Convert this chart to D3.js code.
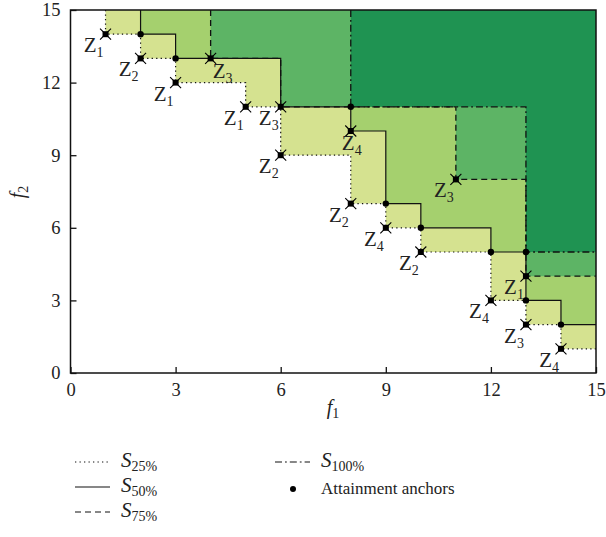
<!DOCTYPE html>
<html><head><meta charset="utf-8">
<script src="https://cdn.jsdelivr.net/npm/d3@7"></script>
<style>body{margin:0;background:#fff}svg{display:block}svg text{font-family:"Liberation Serif","Times New Roman",serif !important;fill:#222}</style>
</head><body>
<svg id="c" width="606" height="537"></svg>
<script>
// ---- data ----
const ticks = [0, 3, 6, 9, 12, 15];
const z1 = [[1,14],[3,12],[5,11],[13,4]];
const z2 = [[2,13],[6,9],[8,7],[10,5]];
const z3 = [[4,13],[6,11],[11,8],[13,2]];
const z4 = [[8,10],[9,6],[12,3],[14,1]];
const s25 = [[1,14],[2,13],[3,12],[5,11],[6,9],[8,7],[9,6],[10,5],[12,3],[13,2],[14,1]];
const s50 = [[2,14],[3,13],[6,11],[8,10],[9,7],[10,6],[12,5],[13,3],[14,2]];
const s75 = [[4,13],[6,11],[11,8],[13,4]];
const s100 = [[8,11],[13,5]];
const anchors = [[2,14],[3,13],[8,11],[9,7],[10,6],[12,5],[13,5],[13,3],[14,2]];

const svg = d3.select("#c");
const x = d3.scaleLinear([0,15],[70.5,596]);
const y = d3.scaleLinear([0,15],[373,10]);

function stepPts(s){
  const p=[[s[0][0],15]];
  s.forEach((d,i)=>{ p.push(d); const nx = i<s.length-1 ? s[i+1][0] : 15; p.push([nx,d[1]]); });
  return p;
}
const line = d3.line().x(d=>x(d[0])).y(d=>y(d[1]));
const fills = [[s25,"#d5e290"],[s50,"#a5d06e"],[s75,"#5db465"],[s100,"#1f9352"]];
fills.forEach(([s,c])=>{
  const p = stepPts(s).concat([[15,15]]);
  svg.append("path").attr("d", line(p)+"Z").attr("fill",c);
});
const styles = [[s25,"1.3,3.2",1.2],[s75,"6,4",1.3],[s100,"7,3,1.8,3",1.3],[s50,null,1.2]];
styles.forEach(([s,da,w])=>{
  svg.append("path").attr("d", line(stepPts(s))).attr("fill","none")
    .attr("stroke","#111").attr("stroke-width",w).attr("stroke-dasharray",da);
});

// box and axes
svg.append("rect").attr("x",x(0)).attr("y",y(15)).attr("width",x(15)-x(0)).attr("height",y(0)-y(15))
  .attr("fill","none").attr("stroke","#111").attr("stroke-width",1.5);
const ax = svg.append("g").attr("transform",`translate(0,${y(0)})`)
  .call(d3.axisBottom(x).tickValues(ticks).tickSizeInner(-6).tickSizeOuter(0).tickPadding(10).tickFormat(d3.format("d")));
const ay = svg.append("g").attr("transform",`translate(${x(0)},0)`)
  .call(d3.axisLeft(y).tickValues(ticks).tickSizeInner(-6).tickSizeOuter(0).tickPadding(10).tickFormat(d3.format("d")));
[ax,ay].forEach(g=>{ g.select(".domain").remove(); g.attr("font-family",null);
  g.selectAll("line").attr("stroke","#111").attr("stroke-width",1.3);
  g.selectAll("text").attr("font-size",18.5).attr("fill","#222"); });

// anchors
svg.selectAll("circle.a").data(anchors).join("circle").attr("cx",d=>x(d[0])).attr("cy",d=>y(d[1])).attr("r",3.2).attr("fill","#000");

// points with labels
const sets = [[z1,"1"],[z2,"2"],[z3,"3"],[z4,"4"]];
const special = {"4,13":"br","8,10":"b"};
sets.forEach(([pts,k])=>{
  pts.forEach(d=>{
    const px=x(d[0]), py=y(d[1]);
    const g = svg.append("g");
    g.append("rect").attr("x",px-3).attr("y",py-3).attr("width",6).attr("height",6).attr("fill","#000");
    g.append("path").attr("d",`M${px-5.5},${py-5.5}L${px+5.5},${py+5.5}M${px-5.5},${py+5.5}L${px+5.5},${py-5.5}`)
      .attr("stroke","#000").attr("stroke-width",1.1);
    const pl = special[d.join(",")];
    let tx=px-2, ty=py+18, anc="end";
    if(pl==="br"){tx=px+2; ty=py+20; anc="start";}
    if(pl==="b"){tx=px+1; ty=py+19; anc="middle";}
    const t = g.append("text").attr("x",tx).attr("y",ty).attr("text-anchor",anc).attr("font-size",21);
    t.append("tspan").text("Z");
    t.append("tspan").attr("font-size",14).attr("dy",5).text(k);
  });
});

// axis titles
const tx1 = svg.append("text").attr("x",333).attr("y",414).attr("text-anchor","middle").attr("font-size",20);
tx1.append("tspan").attr("font-style","italic").text("f");
tx1.append("tspan").attr("font-size",14).attr("dy",4).text("1");
const ty1 = svg.append("text").attr("transform","translate(24,192) rotate(-90)").attr("text-anchor","middle").attr("font-size",20);
ty1.append("tspan").attr("font-style","italic").text("f");
ty1.append("tspan").attr("font-size",14).attr("dy",4).text("2");

// legend
const leg = [
  {x:75, y:467, da:"1.3,3.2", lab:"25%"},
  {x:75, y:492, da:null, lab:"50%"},
  {x:75, y:517, da:"6,4", lab:"75%"},
  {x:275, y:467, da:"7,3,1.8,3", lab:"100%"}
];
leg.forEach(l=>{
  svg.append("line").attr("x1",l.x).attr("x2",l.x+35).attr("y1",l.y-5).attr("y2",l.y-5)
    .attr("stroke","#111").attr("stroke-width",1.2).attr("stroke-dasharray",l.da);
  const t = svg.append("text").attr("x",l.x+46).attr("y",l.y).attr("font-size",21);
  t.append("tspan").attr("font-style","italic").text("S");
  t.append("tspan").attr("font-size",14).attr("dy",4).text(l.lab);
});
svg.append("circle").attr("cx",293).attr("cy",489).attr("r",3).attr("fill","#000");
svg.append("text").attr("x",321).attr("y",494).attr("font-size",17).text("Attainment anchors");
</script>
</body></html>
